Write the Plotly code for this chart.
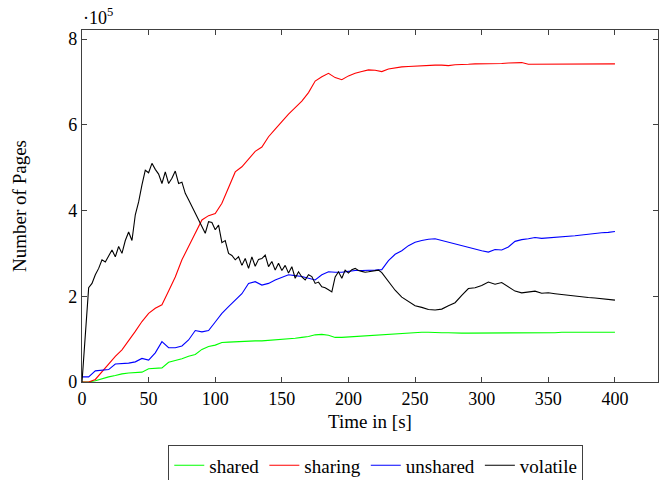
import plotly.graph_objects as go

# Page counts over time, in units of 10^5 pages
time_s = list(range(0, 401, 5))

shared = [0.00, 0.00, 0.03, 0.08, 0.12, 0.15, 0.19, 0.21, 0.22, 0.23,
          0.31, 0.32, 0.33, 0.46, 0.50, 0.54, 0.60, 0.64, 0.76, 0.83,
          0.86, 0.92, 0.93, 0.94, 0.95, 0.95, 0.96, 0.96, 0.97, 0.98,
          0.99, 1.00, 1.02, 1.04, 1.06, 1.10, 1.11, 1.09, 1.04, 1.04,
          1.05, 1.06, 1.07, 1.08, 1.09, 1.10, 1.11, 1.13, 1.14, 1.15,
          1.16, 1.16, 1.16, 1.15, 1.15, 1.15, 1.14, 1.14, 1.14, 1.14,
          1.14, 1.14, 1.14, 1.14, 1.15, 1.15, 1.15, 1.15, 1.15, 1.15,
          1.15, 1.15, 1.16, 1.16, 1.16, 1.16, 1.16, 1.16, 1.16, 1.16,
          1.16]

sharing = [0.00, 0.00, 0.06, 0.24, 0.42, 0.60, 0.75, 0.96, 1.18, 1.41,
           1.60, 1.72, 1.80, 2.12, 2.45, 2.85, 3.15, 3.45, 3.78, 3.88,
           3.93, 4.17, 4.55, 4.90, 5.02, 5.20, 5.38, 5.48, 5.72, 5.90,
           6.08, 6.25, 6.40, 6.55, 6.75, 7.02, 7.12, 7.20, 7.10, 7.05,
           7.14, 7.20, 7.24, 7.28, 7.27, 7.24, 7.30, 7.33, 7.35, 7.36,
           7.37, 7.38, 7.38, 7.39, 7.39, 7.38, 7.40, 7.40, 7.41, 7.42,
           7.42, 7.42, 7.43, 7.43, 7.44, 7.44, 7.45, 7.41, 7.41, 7.41,
           7.41, 7.41, 7.41, 7.42, 7.42, 7.42, 7.42, 7.42, 7.42, 7.42,
           7.42]

unshared = [0.12, 0.12, 0.26, 0.27, 0.29, 0.42, 0.43, 0.44, 0.47, 0.55,
            0.51, 0.68, 0.94, 0.80, 0.80, 0.84, 0.98, 1.20, 1.17, 1.20,
            1.40, 1.60, 1.76, 1.90, 2.06, 2.30, 2.34, 2.26, 2.30, 2.38,
            2.44, 2.50, 2.48, 2.46, 2.42, 2.38, 2.50, 2.57, 2.56, 2.56,
            2.58, 2.60, 2.60, 2.60, 2.61, 2.62, 2.83, 2.98, 3.06, 3.18,
            3.26, 3.30, 3.33, 3.34, 3.30, 3.25, 3.21, 3.17, 3.13, 3.10,
            3.06, 3.03, 3.09, 3.08, 3.15, 3.28, 3.32, 3.34, 3.37, 3.35,
            3.36, 3.37, 3.38, 3.39, 3.41, 3.43, 3.45, 3.46, 3.48, 3.49,
            3.51]

volatile_time_s = [i * 2.5 for i in range(91)] + list(range(230, 401, 5))
volatile = [0.00, 1.20, 2.20, 2.30, 2.50, 2.65, 2.85, 2.80, 2.95, 3.08,
            2.92, 3.16, 3.00, 3.30, 3.50, 3.30, 3.90, 4.20, 4.60, 4.94,
            4.88, 5.10, 4.96, 4.85, 4.63, 4.90, 4.63, 4.75, 4.92, 4.63,
            4.66, 4.40, 4.25, 4.09, 3.95, 3.75, 3.60, 3.47, 3.74, 3.72,
            3.55, 3.66, 3.25, 3.30, 3.00, 2.95, 2.85, 2.92, 2.72, 2.88,
            2.65, 2.92, 2.70, 2.86, 2.88, 2.96, 2.69, 2.81, 2.61, 2.77,
            2.60, 2.72, 2.54, 2.69, 2.42, 2.57, 2.45, 2.38, 2.50, 2.46,
            2.30, 2.33, 2.22, 2.20, 2.15, 2.10, 2.45, 2.57, 2.42, 2.61,
            2.54, 2.62, 2.65, 2.60, 2.58, 2.56, 2.57, 2.58, 2.60, 2.61,
            2.55,
            2.35, 2.14, 1.98, 1.88, 1.78, 1.74, 1.69, 1.68, 1.70, 1.78,
            1.85, 2.02, 2.18, 2.20, 2.25, 2.33, 2.28, 2.32, 2.21, 2.12,
            2.08, 2.10, 2.12, 2.07, 2.08, 2.06, 2.04, 2.03, 2.01, 1.99,
            1.97, 1.96, 1.94, 1.93, 1.91]

y_ticks = [0, 2, 4, 6, 8]
x_ticks = [0, 50, 100, 150, 200, 250, 300, 350, 400]

series = [
    ("shared", time_s, shared, "#00ff00"),
    ("sharing", time_s, sharing, "#ff0000"),
    ("unshared", time_s, unshared, "#0000ff"),
    ("volatile", volatile_time_s, volatile, "#000000"),
]

FONT = "Liberation Serif"
AXIS = "#404040"

fig = go.Figure()
for name, xs, ys, color in series:
    assert len(xs) == len(ys), name
    fig.add_trace(go.Scatter(x=xs, y=ys, mode="lines", name=name,
                             line=dict(color=color, width=1.1)))

axis_common = dict(showgrid=False, zeroline=False, showline=True,
                   linecolor=AXIS, linewidth=1.2, mirror="ticks",
                   ticks="inside", ticklen=5, tickcolor=AXIS, tickwidth=1,
                   tickfont=dict(family=FONT, size=18, color="#000"))

fig.update_xaxes(range=[0, 432.3], tickvals=x_ticks,
                 title=dict(text="Time in [s]", standoff=6,
                            font=dict(family=FONT, size=19, color="#000")),
                 **axis_common)
fig.update_yaxes(range=[0, 8.21], tickvals=y_ticks,
                 ticktext=[str(v) for v in y_ticks],
                 title=dict(text="Number of Pages", standoff=36,
                            font=dict(family=FONT, size=19, color="#000")),
                 **axis_common)

fig.add_annotation(text="·10<sup>5</sup>", xref="paper", yref="paper",
                   x=-0.002, y=1.0, xanchor="left", yanchor="bottom",
                   showarrow=False, yshift=0,
                   font=dict(family=FONT, size=18, color="#000"))

fig.update_layout(
    width=659, height=480,
    margin=dict(l=82, r=1, t=30, b=98, autoexpand=False),
    paper_bgcolor="white", plot_bgcolor="white",
    showlegend=True,
    legend=dict(orientation="h", x=0.51, xanchor="center",
                y=-0.18, yanchor="top",
                bordercolor=AXIS, borderwidth=1,
                font=dict(family=FONT, size=19, color="#000"),
                itemwidth=30, tracegroupgap=0),
)

fig.write_html("out.html")
